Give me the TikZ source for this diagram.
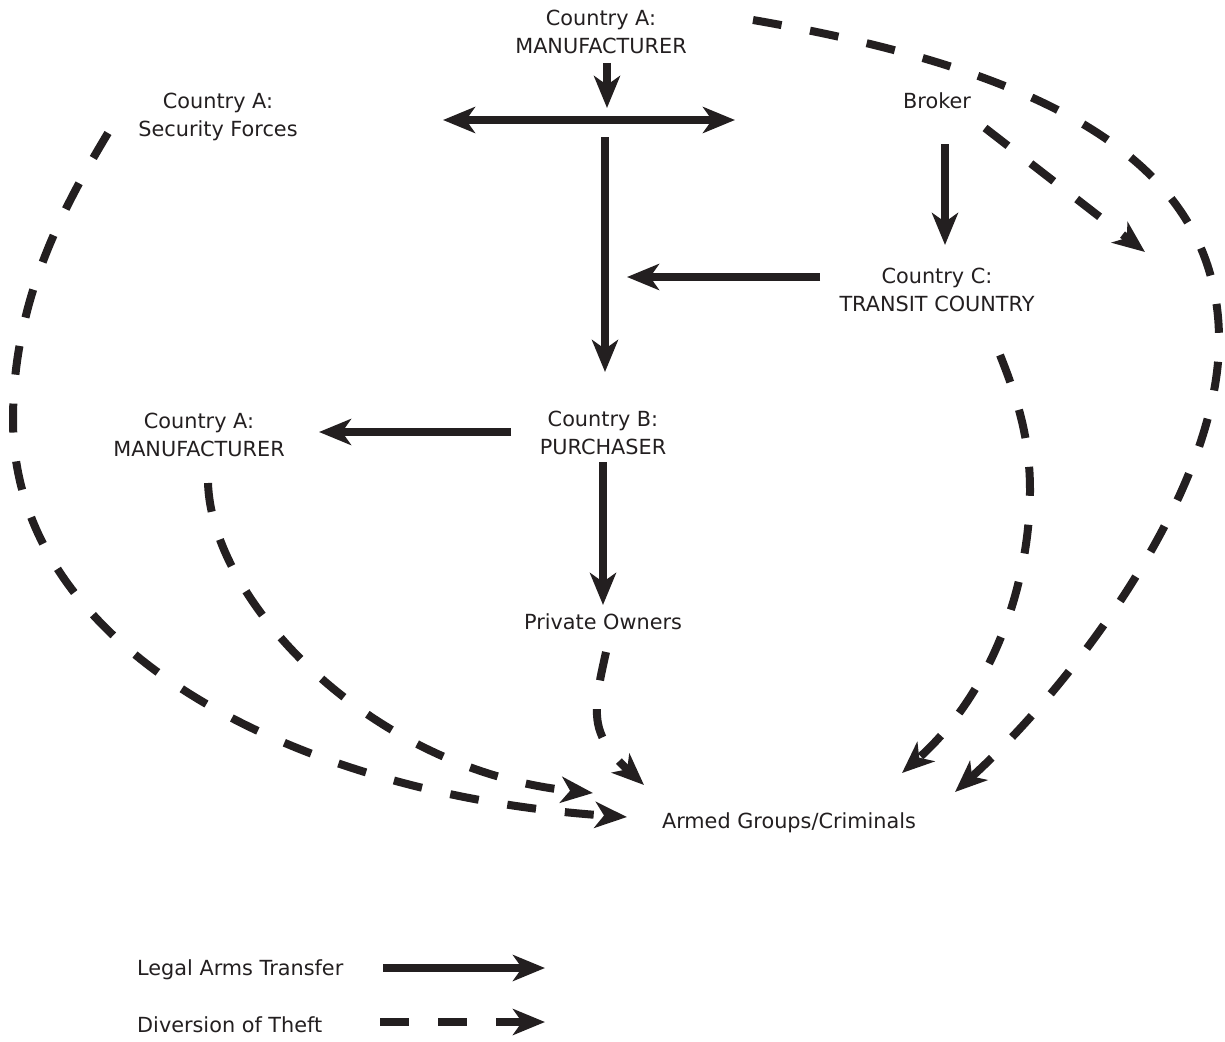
\documentclass[tikz,border=0pt]{standalone}
\usepackage{fontspec}
\setmainfont{DejaVu Sans}
\usetikzlibrary{arrows.meta}
\definecolor{ink}{HTML}{231F20}
\tikzset{
  lbl/.style={font=\fontsize{20.8}{28}\selectfont, text=ink, align=center, inner sep=0pt, text height=15pt, text depth=4pt},
  legal/.style={draw=ink, line width=8pt, -{Stealth[length=32pt,width=26pt,inset=9pt]}},
  legalboth/.style={draw=ink, line width=8pt, {Stealth[length=32pt,width=26pt,inset=9pt]}-{Stealth[length=32pt,width=26pt,inset=9pt]}},
  divert/.style={draw=ink, line width=8pt, dash pattern=on 29pt off 29pt, -{Stealth[length=32pt,width=26pt,inset=9pt]}}
}
\begin{document}
\begin{tikzpicture}[x=1pt, y=-1pt]
\useasboundingbox (0,0) rectangle (1225,1041);

% text nodes
\node[lbl] (topA) at (601,48) {Country A:\\MANUFACTURER};
\node[lbl] (secf) at (218,131) {Country A:\\Security Forces};
\node[lbl] (broker) at (937,103) {Broker};
\node[lbl] (transit) at (937,306) {Country C:\\TRANSIT COUNTRY};
\node[lbl] (purch) at (603,449) {Country B:\\PURCHASER};
\node[lbl] (leftA) at (199,451) {Country A:\\MANUFACTURER};
\node[lbl] (priv) at (603,624) {Private Owners};
\node[lbl] (armed) at (789,823) {Armed Groups/Criminals};
\node[lbl, anchor=west] (leg1) at (137,970) {Legal Arms Transfer};
\node[lbl, anchor=west] (leg2) at (137,1027) {Diversion of Theft};

% connector end points
\coordinate (topOut) at (607,63);
\coordinate (topIn) at (607,108);
\coordinate (splitL) at (443,120);
\coordinate (splitR) at (735,120);
\coordinate (trunkTop) at (605,137);
\coordinate (trunkEnd) at (605,372);
\coordinate (transitOut) at (820,277);
\coordinate (trunkJoin) at (627,277);
\coordinate (brokerOut) at (945,144);
\coordinate (transitIn) at (945,245);
\coordinate (purchOutL) at (511,432);
\coordinate (leftAIn) at (319,432);
\coordinate (purchOutD) at (603,462);
\coordinate (privIn) at (603,605);

\coordinate (secfOut) at (108,133);
\coordinate (leftMost) at (13,420);
\coordinate (armedIn1) at (627,817);
\coordinate (leftAOut) at (208,483);
\coordinate (armedIn2) at (593,793);
\coordinate (privOut) at (606,652);
\coordinate (privMid) at (597,715);
\coordinate (armedIn3) at (644,785);
\coordinate (transitOut2) at (1000,355);
\coordinate (transitMid) at (1030,490);
\coordinate (armedIn4) at (902,773);
\coordinate (topOut2) at (753,20);
\coordinate (rightMost) at (1219,340);
\coordinate (armedIn5) at (955,792);
\coordinate (brokerOut2) at (985,128);
\coordinate (loopIn) at (1145,252);

% legal transfers
\draw[legal] (topOut) -- (topIn);
\draw[legalboth] (splitL) -- (splitR);
\draw[legal] (trunkTop) -- (trunkEnd);
\draw[legal] (transitOut) -- (trunkJoin);
\draw[legal] (brokerOut) -- (transitIn);
\draw[legal] (purchOutL) -- (leftAIn);
\draw[legal] (purchOutD) -- (privIn);

% diversions
\draw[divert] (secfOut) .. controls (63,208) and (13,300) .. (leftMost)
  .. controls (13,650) and (297,795) .. (armedIn1);
\draw[divert] (leftAOut) .. controls (212,603) and (373,771) .. (armedIn2);
\draw[divert] (privOut) .. controls (601,675) and (596,695) .. (privMid)
  .. controls (598,740) and (615,758) .. (armedIn3);
\draw[divert] (transitOut2) .. controls (1018,400) and (1030,440) .. (transitMid)
  .. controls (1030,580) and (995,690) .. (armedIn4);
\draw[divert] (topOut2) .. controls (1043,70) and (1219,160) .. (rightMost)
  .. controls (1219,490) and (1075,683) .. (armedIn5);
\draw[divert] (brokerOut2) -- (loopIn);

% legend
\coordinate (l1a) at (383,968);
\coordinate (l1b) at (545,968);
\coordinate (l2a) at (380,1022);
\coordinate (l2b) at (545,1022);
\draw[legal] (l1a) -- (l1b);
\draw[divert] (l2a) -- (l2b);
\end{tikzpicture}
\end{document}
